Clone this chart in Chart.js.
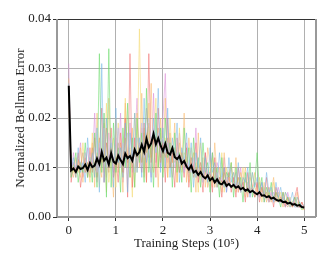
<!DOCTYPE html>
<html><head><meta charset="utf-8">
<script src="https://cdn.jsdelivr.net/npm/chart.js@4"></script>
<style>html,body{margin:0;padding:0;background:#fff;}canvas{display:block;}</style>
</head><body>
<canvas id="c" width="332" height="267"></canvas>
<script>
// Training steps (x 10^5)
const steps = [0,0.05,0.1,0.15,0.2,0.25,0.3,0.35,0.4,0.45,0.5,0.55,0.6,0.65,0.7,0.75,0.8,0.85,0.9,0.95,
1,1.05,1.1,1.15,1.2,1.25,1.3,1.35,1.4,1.45,1.5,1.55,1.6,1.65,1.7,1.75,1.8,1.85,1.9,1.95,
2,2.05,2.1,2.15,2.2,2.25,2.3,2.35,2.4,2.45,2.5,2.55,2.6,2.65,2.7,2.75,2.8,2.85,2.9,2.95,
3,3.05,3.1,3.15,3.2,3.25,3.3,3.35,3.4,3.45,3.5,3.55,3.6,3.65,3.7,3.75,3.8,3.85,3.9,3.95,
4,4.05,4.1,4.15,4.2,4.25,4.3,4.35,4.4,4.45,4.5,4.55,4.6,4.65,4.7,4.75,4.8,4.85,4.9,4.95,5];
const xTicks = [0,1,2,3,4,5];
const yTicks = [0,0.01,0.02,0.03,0.04];
// values in units of 1e-3
const meanErr = [26.5,9.4,9.8,9.1,10.2,9.7,9.9,10.6,9.5,10.9,
10.1,10.4,11.8,10.7,13.1,11.4,12.0,10.6,12.9,11.2,
10.8,12.4,11.5,10.7,12.8,11.9,12.3,11.4,13.6,12.5,
13.1,14.6,13.2,15.8,14.1,14.9,16.8,14.7,15.9,14.4,
13.3,14.8,13.0,12.6,13.9,12.1,11.7,12.3,10.8,11.3,
10.2,9.6,10.4,9.0,9.3,8.5,9.1,8.2,7.8,8.4,
7.4,7.9,7.0,7.6,6.8,6.6,7.2,6.3,6.7,6.1,
6.5,5.9,6.2,5.6,5.9,5.3,5.6,5.0,5.3,4.9,
4.6,5.0,4.3,4.4,4.0,4.2,3.7,3.9,3.5,3.3,
3.4,3.0,3.1,2.7,2.9,2.5,2.6,2.3,2.4,2.0,1.9];
const seedA = [27,9,12,8,14,9,11,7,16,10, 13,8,18,5,31,7,20,10,15,6, 22,11,14,8,19,5,17,12,21,9, 16,8,24,11,14,7,20,13,26,9, 18,10,22,8,16,12,19,7,14,11, 17,9,15,6,13,10,16,8,12,7, 14,9,11,6,13,8,10,5,12,7, 9,6,11,5,8,7,10,4,9,6, 8,5,7,4,9,5,6,3,7,4, 6,3,5,4,3,5,2,4,3,2, 2.5];
const seedB = [26,8,10,13,7,11,9,15,8,12, 7,17,6,33,9,21,4,34,6,19, 9,14,5,18,10,23,8,16,6,20, 11,17,7,26,9,15,6,21,10,18, 8,20,12,15,6,17,9,13,7,18, 10,14,5,16,8,12,6,15,9,11, 5,13,7,10,4,12,6,9,8,11, 4,10,6,8,3,9,5,11,4,7, 13,5,8,3,6,4,7,3,5,4, 2,5,3,4,2,3,4,2,3,1.5, 2];
const seedC = [25,7,11,9,13,6,10,12,8,14, 9,16,8,13,22,7,15,10,18,8, 12,7,17,9,20,4,33,6,16,10, 14,9,19,7,33,11,17,8,22,12, 15,7,20,10,13,6,16,9,12,8, 14,6,11,9,15,7,10,5,13,8, 9,5,12,7,8,4,10,6,9,5, 8,4,10,6,7,3,9,5,6,4, 7,3,6,4,8,3,5,2,6,4, 3,5,2,4,3,2,4,6,2,3, 1.5];
const seedD = [28,10,8,12,9,14,7,13,10,9, 15,6,21,11,8,19,5,24,12,4, 20,9,15,5,23,12,8,18,6,21, 10,25,8,17,12,27,9,16,6,20, 13,24,8,17,11,19,7,15,10,21, 7,16,10,13,5,17,8,12,6,14, 11,6,15,8,10,5,13,7,9,11, 6,12,5,9,7,10,4,8,6,9, 5,8,4,7,3,6,5,8,3,5, 4,2,5,3,4,2,3,5,2,3, 2];
const seedE = [22,11,9,10,12,8,15,9,11,7, 17,8,13,6,14,9,23,7,12,16, 6,19,11,8,24,10,14,4,21,9, 38,11,18,7,23,9,15,24,10,17, 9,16,8,20,11,14,7,18,9,13, 12,7,14,9,11,5,15,8,10,6, 10,12,6,9,7,13,5,10,7,8, 9,5,8,6,10,4,7,5,9,6, 5,7,3,6,4,5,3,7,4,3, 5,3,2,4,2,3,2,4,2,1.5, 1.5];
const seedF = [31,8,13,9,11,15,8,10,14,9, 11,21,7,14,10,20,8,17,13,9, 16,10,21,7,13,11,19,9,15,24, 12,18,9,22,14,8,25,11,16,10, 20,29,11,16,8,14,10,17,12,9, 15,8,12,10,18,7,11,9,13,6, 8,13,6,11,9,7,12,5,8,10, 7,9,5,10,6,8,4,9,6,7, 6,4,7,3,5,6,3,5,4,6, 3,4,2,5,3,2,4,3,2,3, 2];
const seedG = [24,9,10,8,12,10,13,9,11,8, 14,10,9,16,11,12,18,9,14,11, 10,15,12,9,16,11,13,10,14,12, 15,11,17,13,19,12,16,14,18,11, 14,12,16,10,13,11,12,9,13,10, 11,9,12,8,10,9,11,7,9,8, 9,7,10,6,8,7,9,6,8,6, 7,6,8,5,7,5,6,5,6,4, 5,4,6,4,5,3,4,4,5,3, 4,3,3,2,3,2,3,2,2,2, 2];
const seedH = [23,10,11,10,12,11,10,13,9,12, 11,14,9,15,12,18,10,13,16,11, 13,18,10,15,12,17,11,14,9,16, 14,19,12,17,20,15,18,13,17,15, 16,13,15,12,14,10,13,11,12,9, 11,10,9,12,8,10,9,7,10,8, 9,8,7,9,7,8,6,8,7,6, 7,6,7,5,6,5,7,4,6,5, 5,4,5,4,4,3,5,3,4,3, 3,3,2,3,2,3,2,2,2,2, 2];

const seeds = [
  {d: seedH, c: 'rgba(190,186,235,0.6)'},
  {d: seedG, c: 'rgba(210,160,110,0.5)'},
  {d: seedA, c: 'rgba(110,180,230,0.5)'},
  {d: seedB, c: 'rgba(110,220,110,0.6)'},
  {d: seedC, c: 'rgba(240,110,110,0.55)'},
  {d: seedD, c: 'rgba(250,185,110,0.55)'},
  {d: seedE, c: 'rgba(245,220,120,0.6)'},
  {d: seedF, c: 'rgba(220,140,215,0.55)'}
];
const toPts = arr => arr.map((v, i) => ({x: steps[i], y: v / 1000}));
const datasets = seeds.map(s => ({data: toPts(s.d), borderColor: s.c, borderWidth: 1, pointRadius: 0, tension: 0, fill: false, order: 1}));
datasets.push({data: toPts(meanErr), borderColor: '#000', borderWidth: 2, pointRadius: 0, tension: 0, fill: false, order: 0});

const FONT = "'Liberation Serif', 'DejaVu Serif', serif";
const framePlugin = {
  id: 'frame',
  afterDraw(chart) {
    const {ctx, chartArea: a} = chart;
    ctx.save();
    ctx.strokeStyle = '#333'; ctx.lineWidth = 1;
    ctx.beginPath(); ctx.moveTo(a.left, a.top + 0.5); ctx.lineTo(a.right, a.top + 0.5); ctx.stroke();
    ctx.strokeStyle = '#999'; ctx.lineWidth = 2;
    ctx.beginPath(); ctx.moveTo(a.right, a.top); ctx.lineTo(a.right, a.bottom); ctx.stroke();
    ctx.beginPath(); ctx.moveTo(a.left, a.top); ctx.lineTo(a.left, a.bottom); ctx.stroke();
    ctx.beginPath(); ctx.moveTo(a.left, a.bottom); ctx.lineTo(a.right, a.bottom); ctx.stroke();
    ctx.restore();
  }
};

new Chart(document.getElementById('c'), {
  type: 'line',
  data: {datasets},
  options: {
    responsive: false, animation: false, events: [],
    layout: {padding: {top: 19, right: 16, left: 13, bottom: 16}},
    plugins: {legend: {display: false}, tooltip: {enabled: false}},
    scales: {
      x: {
        type: 'linear', min: -0.25, max: 5.25,
        afterBuildTicks: s => { s.ticks = xTicks.map(v => ({value: v})); },
        afterFit: s => { s.height = 34; },
        grid: {color: '#b0b0b0', lineWidth: 1, tickLength: 4, tickColor: '#333', drawTicks: true},
        border: {display: false},
        ticks: {color: '#222', font: {family: FONT, size: 13}, padding: 2, maxRotation: 0,
          callback: v => String(v)},
        title: {display: true, text: 'Training Steps (10\u2075)', color: '#222',
          font: {family: FONT, size: 13}, padding: {top: 2, bottom: 0}}
      },
      y: {
        min: 0, max: 0.04,
        afterBuildTicks: s => { s.ticks = yTicks.map(v => ({value: v})); },
        afterFit: s => { s.width = 44; },
        grid: {color: '#b0b0b0', lineWidth: 1, tickLength: 4, tickColor: '#333', drawTicks: true},
        border: {display: false},
        ticks: {color: '#222', font: {family: FONT, size: 13}, padding: 2,
          callback: v => v.toFixed(2)},
        title: {display: true, text: 'Normalized Bellman Error', color: '#222',
          font: {family: FONT, size: 13}, padding: {top: 0, bottom: 1}}
      }
    }
  },
  plugins: [framePlugin]
});
</script>
</body></html>
